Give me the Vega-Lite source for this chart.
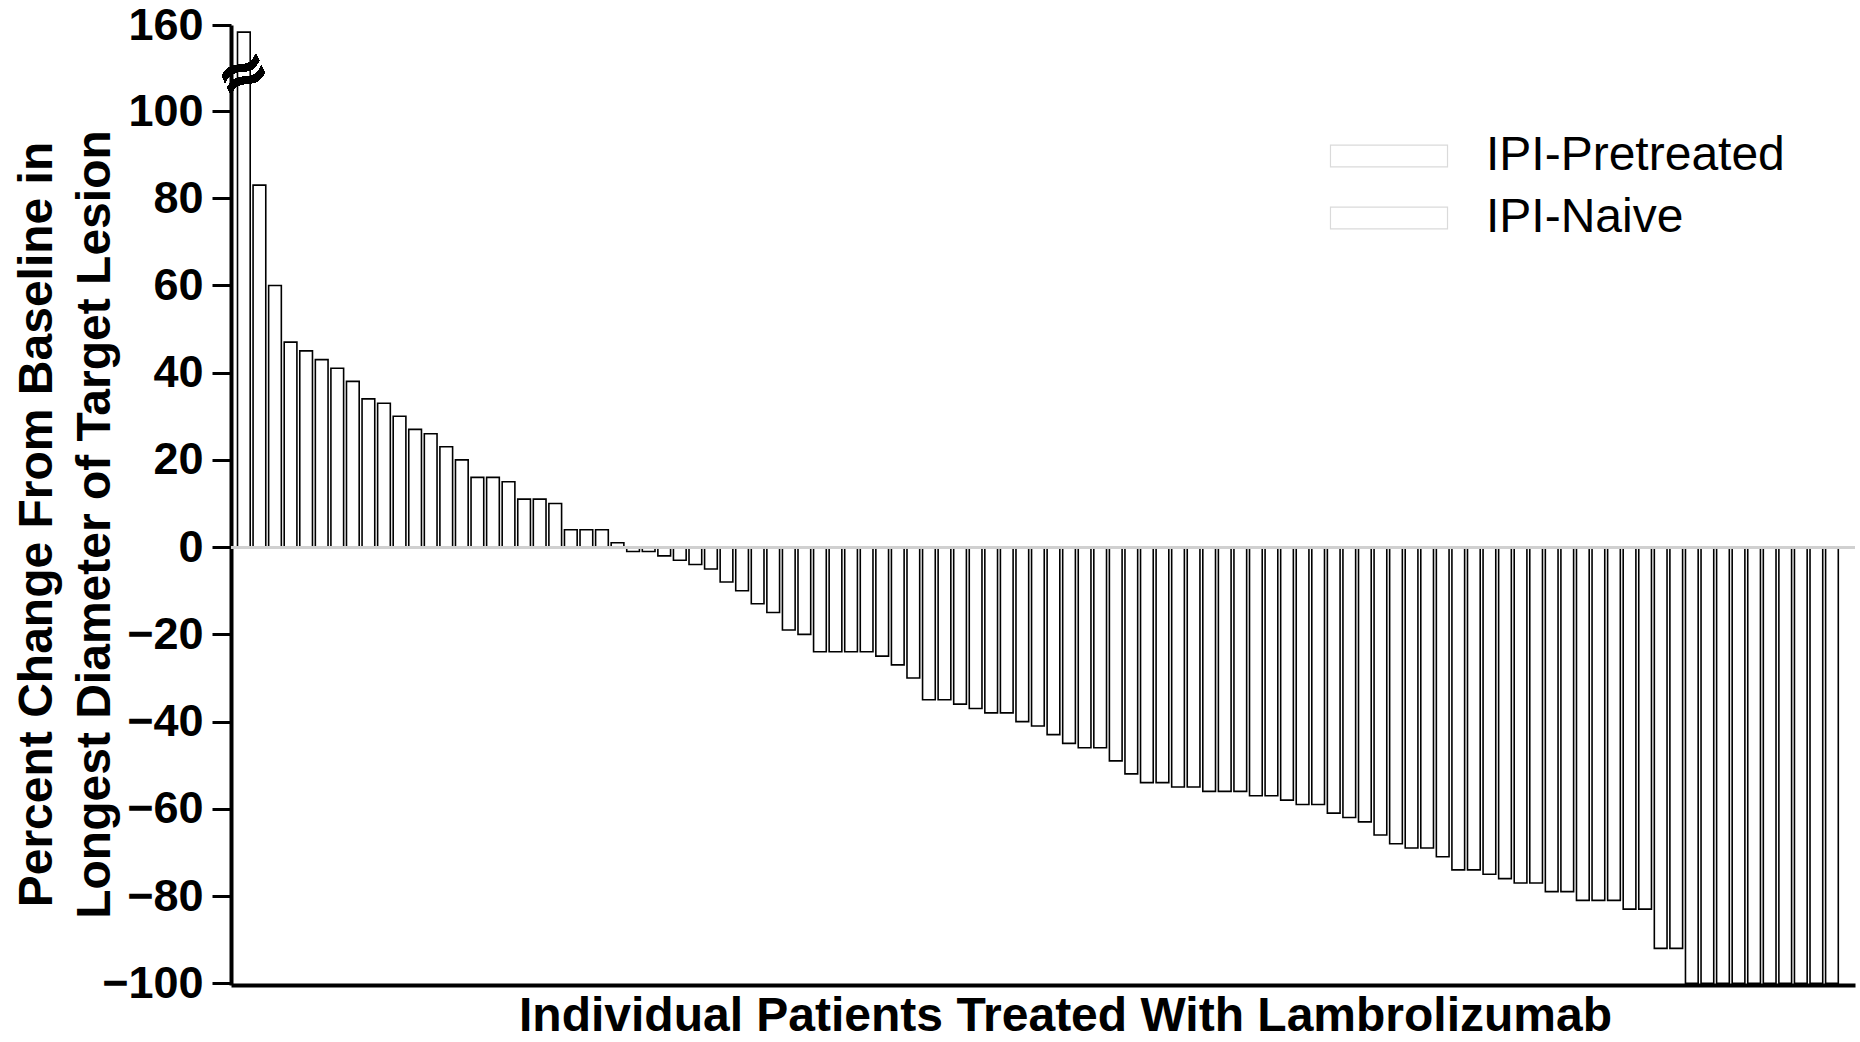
{
  "$schema": "https://vega.github.io/schema/vega-lite/v6.json",
  "width": 1624,
  "height": 960,
  "autosize": {"type": "none"},
  "padding": {"left": 231, "top": 25, "right": 5, "bottom": 57},
  "background": "white",
  "config": {"view": {"stroke": null}, "font": "Liberation Sans"},
  "data": {"values": [
    {"patient": 1, "change": 155, "group": "IPI-Pretreated"},
    {"patient": 2, "change": 83, "group": "IPI-Naive"},
    {"patient": 3, "change": 60, "group": "IPI-Pretreated"},
    {"patient": 4, "change": 47, "group": "IPI-Pretreated"},
    {"patient": 5, "change": 45, "group": "IPI-Naive"},
    {"patient": 6, "change": 43, "group": "IPI-Pretreated"},
    {"patient": 7, "change": 41, "group": "IPI-Naive"},
    {"patient": 8, "change": 38, "group": "IPI-Pretreated"},
    {"patient": 9, "change": 34, "group": "IPI-Naive"},
    {"patient": 10, "change": 33, "group": "IPI-Pretreated"},
    {"patient": 11, "change": 30, "group": "IPI-Pretreated"},
    {"patient": 12, "change": 27, "group": "IPI-Naive"},
    {"patient": 13, "change": 26, "group": "IPI-Pretreated"},
    {"patient": 14, "change": 23, "group": "IPI-Naive"},
    {"patient": 15, "change": 20, "group": "IPI-Pretreated"},
    {"patient": 16, "change": 16, "group": "IPI-Naive"},
    {"patient": 17, "change": 16, "group": "IPI-Pretreated"},
    {"patient": 18, "change": 15, "group": "IPI-Naive"},
    {"patient": 19, "change": 11, "group": "IPI-Pretreated"},
    {"patient": 20, "change": 11, "group": "IPI-Naive"},
    {"patient": 21, "change": 10, "group": "IPI-Pretreated"},
    {"patient": 22, "change": 4, "group": "IPI-Naive"},
    {"patient": 23, "change": 4, "group": "IPI-Pretreated"},
    {"patient": 24, "change": 4, "group": "IPI-Naive"},
    {"patient": 25, "change": 1, "group": "IPI-Pretreated"},
    {"patient": 26, "change": -1, "group": "IPI-Naive"},
    {"patient": 27, "change": -1, "group": "IPI-Pretreated"},
    {"patient": 28, "change": -2, "group": "IPI-Naive"},
    {"patient": 29, "change": -3, "group": "IPI-Pretreated"},
    {"patient": 30, "change": -4, "group": "IPI-Naive"},
    {"patient": 31, "change": -5, "group": "IPI-Pretreated"},
    {"patient": 32, "change": -8, "group": "IPI-Naive"},
    {"patient": 33, "change": -10, "group": "IPI-Pretreated"},
    {"patient": 34, "change": -13, "group": "IPI-Naive"},
    {"patient": 35, "change": -15, "group": "IPI-Pretreated"},
    {"patient": 36, "change": -19, "group": "IPI-Naive"},
    {"patient": 37, "change": -20, "group": "IPI-Pretreated"},
    {"patient": 38, "change": -24, "group": "IPI-Naive"},
    {"patient": 39, "change": -24, "group": "IPI-Pretreated"},
    {"patient": 40, "change": -24, "group": "IPI-Naive"},
    {"patient": 41, "change": -24, "group": "IPI-Pretreated"},
    {"patient": 42, "change": -25, "group": "IPI-Naive"},
    {"patient": 43, "change": -27, "group": "IPI-Pretreated"},
    {"patient": 44, "change": -30, "group": "IPI-Naive"},
    {"patient": 45, "change": -35, "group": "IPI-Pretreated"},
    {"patient": 46, "change": -35, "group": "IPI-Naive"},
    {"patient": 47, "change": -36, "group": "IPI-Pretreated"},
    {"patient": 48, "change": -37, "group": "IPI-Naive"},
    {"patient": 49, "change": -38, "group": "IPI-Pretreated"},
    {"patient": 50, "change": -38, "group": "IPI-Naive"},
    {"patient": 51, "change": -40, "group": "IPI-Pretreated"},
    {"patient": 52, "change": -41, "group": "IPI-Naive"},
    {"patient": 53, "change": -43, "group": "IPI-Pretreated"},
    {"patient": 54, "change": -45, "group": "IPI-Naive"},
    {"patient": 55, "change": -46, "group": "IPI-Pretreated"},
    {"patient": 56, "change": -46, "group": "IPI-Naive"},
    {"patient": 57, "change": -49, "group": "IPI-Pretreated"},
    {"patient": 58, "change": -52, "group": "IPI-Naive"},
    {"patient": 59, "change": -54, "group": "IPI-Pretreated"},
    {"patient": 60, "change": -54, "group": "IPI-Naive"},
    {"patient": 61, "change": -55, "group": "IPI-Pretreated"},
    {"patient": 62, "change": -55, "group": "IPI-Naive"},
    {"patient": 63, "change": -56, "group": "IPI-Pretreated"},
    {"patient": 64, "change": -56, "group": "IPI-Naive"},
    {"patient": 65, "change": -56, "group": "IPI-Pretreated"},
    {"patient": 66, "change": -57, "group": "IPI-Naive"},
    {"patient": 67, "change": -57, "group": "IPI-Pretreated"},
    {"patient": 68, "change": -58, "group": "IPI-Naive"},
    {"patient": 69, "change": -59, "group": "IPI-Pretreated"},
    {"patient": 70, "change": -59, "group": "IPI-Naive"},
    {"patient": 71, "change": -61, "group": "IPI-Pretreated"},
    {"patient": 72, "change": -62, "group": "IPI-Naive"},
    {"patient": 73, "change": -63, "group": "IPI-Pretreated"},
    {"patient": 74, "change": -66, "group": "IPI-Naive"},
    {"patient": 75, "change": -68, "group": "IPI-Pretreated"},
    {"patient": 76, "change": -69, "group": "IPI-Naive"},
    {"patient": 77, "change": -69, "group": "IPI-Pretreated"},
    {"patient": 78, "change": -71, "group": "IPI-Naive"},
    {"patient": 79, "change": -74, "group": "IPI-Pretreated"},
    {"patient": 80, "change": -74, "group": "IPI-Naive"},
    {"patient": 81, "change": -75, "group": "IPI-Pretreated"},
    {"patient": 82, "change": -76, "group": "IPI-Naive"},
    {"patient": 83, "change": -77, "group": "IPI-Pretreated"},
    {"patient": 84, "change": -77, "group": "IPI-Naive"},
    {"patient": 85, "change": -79, "group": "IPI-Pretreated"},
    {"patient": 86, "change": -79, "group": "IPI-Naive"},
    {"patient": 87, "change": -81, "group": "IPI-Pretreated"},
    {"patient": 88, "change": -81, "group": "IPI-Naive"},
    {"patient": 89, "change": -81, "group": "IPI-Pretreated"},
    {"patient": 90, "change": -83, "group": "IPI-Naive"},
    {"patient": 91, "change": -83, "group": "IPI-Pretreated"},
    {"patient": 92, "change": -92, "group": "IPI-Naive"},
    {"patient": 93, "change": -92, "group": "IPI-Pretreated"},
    {"patient": 94, "change": -100, "group": "IPI-Naive"},
    {"patient": 95, "change": -100, "group": "IPI-Pretreated"},
    {"patient": 96, "change": -100, "group": "IPI-Naive"},
    {"patient": 97, "change": -100, "group": "IPI-Pretreated"},
    {"patient": 98, "change": -100, "group": "IPI-Naive"},
    {"patient": 99, "change": -100, "group": "IPI-Pretreated"},
    {"patient": 100, "change": -100, "group": "IPI-Naive"},
    {"patient": 101, "change": -100, "group": "IPI-Pretreated"},
    {"patient": 102, "change": -100, "group": "IPI-Naive"},
    {"patient": 103, "change": -100, "group": "IPI-Pretreated"}
  ]},
  "layer": [
    {
      "mark": {"type": "bar", "stroke": "black", "strokeWidth": 1.6},
      "encoding": {
        "x": {
          "field": "patient", "type": "ordinal", "sort": "ascending",
          "scale": {"paddingInner": 0.184, "paddingOuter": 0.745, "align": 0.28},
          "axis": {
            "domainColor": "black", "domainWidth": 4, "ticks": false, "labels": false, "grid": false,
            "title": "Individual Patients Treated With Lambrolizumab",
            "titleFontSize": 48, "titleFontWeight": "bold", "titleColor": "black",
            "titlePadding": 7, "titleX": 834
          }
        },
        "y": {
          "field": "change", "type": "quantitative",
          "scale": {"domain": [-100.4, 100, 160], "range": [960, 86, 0], "zero": false, "nice": false},
          "axis": {
            "values": [-100, -80, -60, -40, -20, 0, 20, 40, 60, 80, 100, 160],
            "domainColor": "black", "domainWidth": 4,
            "tickColor": "black", "tickWidth": 3, "tickSize": 19,
            "labelFontSize": 45, "labelFontWeight": "bold", "labelColor": "black", "labelPadding": 9,
            "labelOverlap": false, "labelFlush": false, "grid": false,
            "title": ["Percent Change From Baseline in", "Longest Diameter of Target Lesion"],
            "titleFontSize": 48, "titleFontWeight": "bold", "titleColor": "black",
            "titleLineHeight": 58, "titlePadding": -18, "titleY": 499
          }
        },
        "y2": {"datum": 0},
        "color": {
          "field": "group", "type": "nominal",
          "scale": {"domain": ["IPI-Pretreated", "IPI-Naive"], "range": ["white", "white"]},
          "legend": {
            "orient": "none", "legendX": 1134, "legendY": 107, "title": null, "padding": 0,
            "labelFontSize": 48, "labelColor": "black", "labelFontWeight": "normal", "labelLimit": 0,
            "labelOffset": 73, "rowPadding": 14,
            "symbolType": "M-5,-0.925H5V0.925H-5Z", "symbolSize": 548,
            "symbolStrokeColor": "#dadada", "symbolStrokeWidth": 1.2, "symbolFillColor": "white",
            "encode": {"symbols": {"update": {"stroke": {"value": "#dadada"}, "strokeWidth": {"value": 1.2}, "fill": {"value": "white"}}, "enter": {"stroke": {"value": "#dadada"}}}}
          }
        }
      }
    },
    {
      "mark": {"type": "rule", "color": "#d0d0d0", "strokeWidth": 2},
      "encoding": {"y": {"datum": 0}}
    },
    {
      "mark": {"type": "text", "text": "≈", "font": "DejaVu Sans", "fontSize": 64, "fontWeight": "bold", "angle": -25, "dx": 0, "color": "black", "align": "center", "baseline": "middle"},
      "encoding": {
        "x": {"datum": 1, "type": "ordinal"},
        "y": {"datum": 125}
      }
    }
  ]
}
